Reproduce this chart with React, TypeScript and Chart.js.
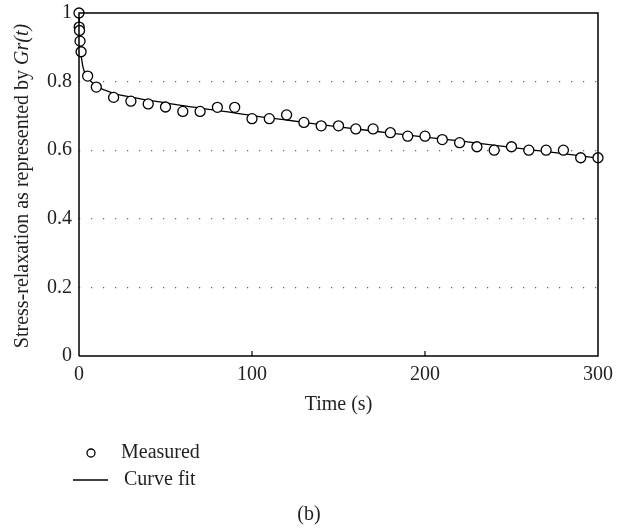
import React, { useEffect, useRef } from "react";
import { Chart, registerables } from "chart.js";

Chart.register(...registerables);

const measuredTime = [0, 0.1, 0.3, 0.6, 1.2, 5, 10, 20, 30, 40, 50, 60, 70, 80, 90, 100, 110, 120, 130, 140, 150, 160, 170, 180, 190, 200, 210, 220, 230, 240, 250, 260, 270, 280, 290, 300];
const measuredValue = [1.0, 0.959, 0.949, 0.918, 0.887, 0.816, 0.784, 0.754, 0.743, 0.735, 0.726, 0.713, 0.713, 0.725, 0.725, 0.692, 0.692, 0.703, 0.681, 0.671, 0.671, 0.662, 0.662, 0.651, 0.641, 0.641, 0.631, 0.622, 0.610, 0.600, 0.610, 0.600, 0.600, 0.600, 0.578, 0.578];

const fitTime = [0, 0.5, 1, 2, 3, 5, 7, 10, 15, 20, 30, 40, 50, 60, 80, 100, 120, 150, 180, 200, 220, 250, 280, 300];
const fitValue = [1.0, 0.93, 0.89, 0.85, 0.83, 0.812, 0.8, 0.787, 0.775, 0.766, 0.755, 0.746, 0.738, 0.73, 0.716, 0.701, 0.688, 0.668, 0.65, 0.638, 0.627, 0.608, 0.59, 0.577];

const xTickValues = [0, 100, 200, 300];
const yTickValues = [0, 0.2, 0.4, 0.6, 0.8, 1];

const FONT = "'Liberation Serif', 'DejaVu Serif', serif";
const TEXT = "#231f20";

const decorPlugin = {
  id: "decor",
  afterDraw(chart: any) {
    const { ctx, chartArea } = chart;
    const { left, right, top, bottom } = chartArea;
    const xs = chart.scales.x;
    ctx.save();
    ctx.strokeStyle = "#000";
    ctx.lineWidth = 1.5;
    ctx.beginPath();
    ctx.moveTo(left, bottom);
    ctx.lineTo(left, top);
    ctx.lineTo(right, top);
    ctx.lineTo(right, bottom);
    ctx.lineTo(left, bottom);
    ctx.stroke();
    ctx.lineWidth = 1.2;
    [100, 200].forEach((v) => {
      const px = xs.getPixelForValue(v);
      ctx.beginPath();
      ctx.moveTo(px, bottom);
      ctx.lineTo(px, bottom - 5);
      ctx.stroke();
    });
    ctx.fillStyle = TEXT;
    ctx.font = `20px ${FONT}`;
    ctx.textAlign = "center";
    ctx.textBaseline = "middle";
    ctx.fillText("Time (s)", (left + right) / 2, 405);
    ctx.save();
    ctx.translate(23, 186);
    ctx.rotate(-Math.PI / 2);
    const p1 = "Stress-relaxation as represented by ";
    const p2 = "Gr(t)";
    ctx.font = `20px ${FONT}`;
    const w1 = ctx.measureText(p1).width;
    ctx.font = `italic 20px ${FONT}`;
    const w2 = ctx.measureText(p2).width;
    const start = -(w1 + w2) / 2;
    ctx.textAlign = "left";
    ctx.font = `20px ${FONT}`;
    ctx.fillText(p1, start, 0);
    ctx.font = `italic 20px ${FONT}`;
    ctx.fillText(p2, start + w1, 0);
    ctx.restore();
    ctx.font = `20px ${FONT}`;
    ctx.textAlign = "left";
    ctx.beginPath();
    ctx.arc(91, 453, 4, 0, Math.PI * 2);
    ctx.fillStyle = "#fff";
    ctx.fill();
    ctx.strokeStyle = "#000";
    ctx.lineWidth = 1.3;
    ctx.stroke();
    ctx.fillStyle = TEXT;
    ctx.fillText("Measured", 121, 453);
    ctx.beginPath();
    ctx.moveTo(73, 480);
    ctx.lineTo(108, 480);
    ctx.stroke();
    ctx.fillText("Curve fit", 124, 480);
    ctx.textAlign = "center";
    ctx.fillText("(b)", 309, 515);
    ctx.restore();
  },
};

export default function App() {
  const ref = useRef<HTMLCanvasElement | null>(null);
  useEffect(() => {
    if (!ref.current) return;
    const chart = new Chart(ref.current, {
      type: "scatter",
      data: {
        datasets: [
          {
            label: "Measured",
            data: measuredTime.map((t, i) => ({ x: t, y: measuredValue[i] })),
            pointStyle: "circle",
            pointRadius: 5,
            pointBackgroundColor: "#fff",
            pointBorderColor: "#000",
            pointBorderWidth: 1.3,
            showLine: false,
            clip: false,
            order: 0,
          },
          {
            label: "Curve fit",
            data: fitTime.map((t, i) => ({ x: t, y: fitValue[i] })),
            showLine: true,
            borderColor: "#000",
            borderWidth: 1.3,
            pointRadius: 0,
            cubicInterpolationMode: "monotone",
            clip: false,
            order: 1,
          },
        ],
      },
      options: {
        animation: false,
        responsive: false,
        maintainAspectRatio: false,
        layout: { padding: { left: 0, top: 13, right: 28, bottom: 0 } },
        plugins: { legend: { display: false }, tooltip: { enabled: false } },
        scales: {
          x: {
            type: "linear",
            min: 0,
            max: 300,
            afterFit: (s: any) => { s.height = 173; s.paddingLeft = 0; s.paddingRight = 0; },
            afterBuildTicks: (s: any) => { s.ticks = xTickValues.map((v) => ({ value: v })); },
            grid: { display: false, drawTicks: false },
            border: { display: false },
            ticks: { color: TEXT, padding: 7, font: { family: FONT, size: 20 }, maxRotation: 0, callback: (v: any) => String(v) },
          },
          y: {
            type: "linear",
            min: 0,
            max: 1,
            afterFit: (s: any) => { s.width = 79; s.paddingTop = 0; s.paddingBottom = 0; },
            afterBuildTicks: (s: any) => { s.ticks = yTickValues.map((v) => ({ value: v })); },
            grid: {
              drawTicks: false,
              color: (c: any) => (c.tick && (c.tick.value === 0 || c.tick.value === 1) ? "rgba(0,0,0,0)" : "#666"),
              lineWidth: 1.2,
            },
            border: { display: false, dash: [1.2, 10.8] },
            ticks: { color: TEXT, padding: 7, font: { family: FONT, size: 20 }, callback: (v: any) => String(Math.round(v * 10) / 10) },
          },
        },
      },
      plugins: [decorPlugin],
    });
    return () => chart.destroy();
  }, []);
  return (
    <div style={{ position: "fixed", left: 0, top: 0, width: 626, height: 529, background: "#fff" }}>
      <canvas ref={ref} width={626} height={529} style={{ width: 626, height: 529 }} />
    </div>
  );
}
